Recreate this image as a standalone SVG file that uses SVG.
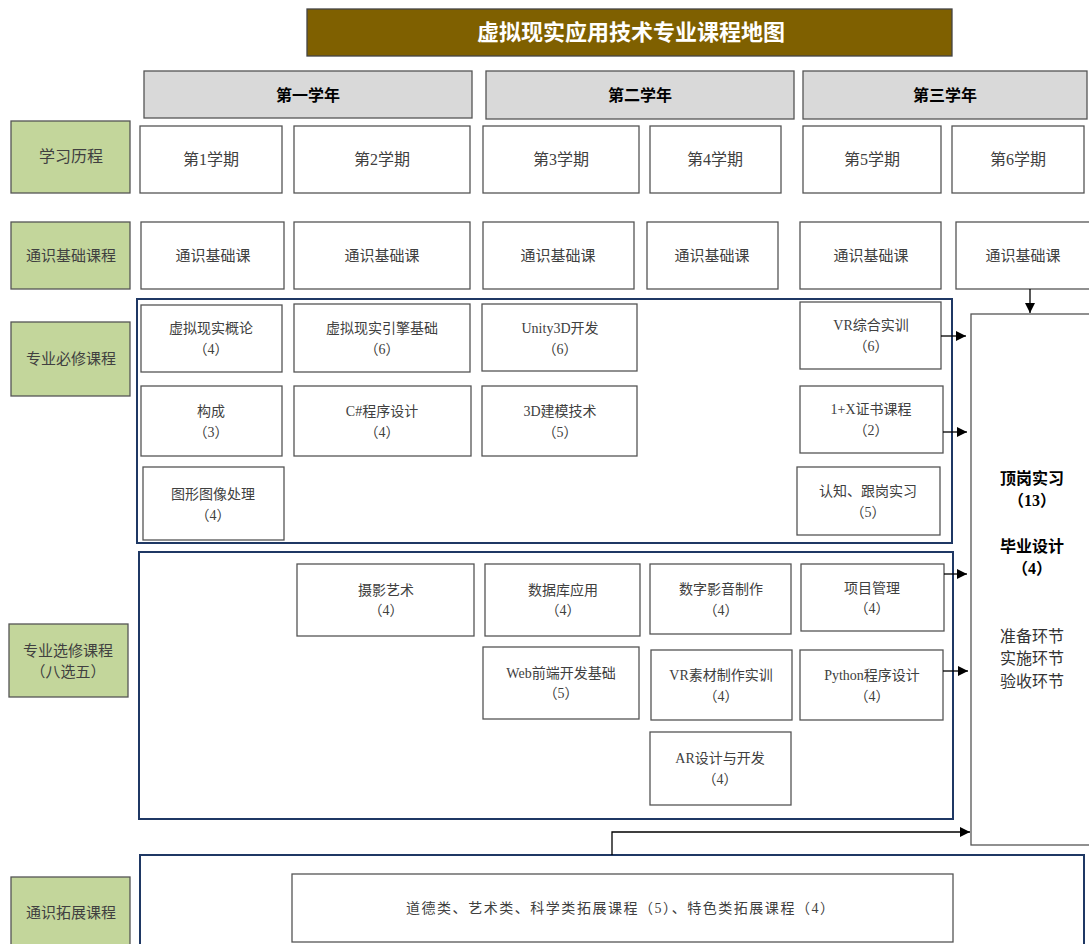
<svg xmlns="http://www.w3.org/2000/svg" width="1089" height="944" viewBox="0 0 1089 944">
<defs>
<style>
text{font-family:"Liberation Serif","Noto Sans CJK SC",serif;text-anchor:middle;fill:#404040;}
.box{fill:#fff;stroke:#555;stroke-width:1.3;}
.lbl{fill:#C3D69B;stroke:#555;stroke-width:1.3;}
.yr{fill:#D9D9D9;stroke:#555;stroke-width:1.3;}
.cont{fill:none;stroke:#1F3864;stroke-width:2;}
.t14{font-size:14px;}
.t15{font-size:15px;}
.t16{font-size:16px;}
.bold{font-weight:bold;fill:#000;}
.conn{fill:none;stroke:#000;stroke-width:1.3;}
</style>
<marker id="ah" viewBox="0 0 10 10" refX="10" refY="5" markerWidth="10" markerHeight="10" markerUnits="userSpaceOnUse" orient="auto">
<path d="M0,0 L10,5 L0,10 Z" fill="#000"/>
</marker>
</defs>
<rect width="1089" height="944" fill="#fff"/>

<g id="title">
<rect x="307" y="9" width="645" height="47" fill="#7F6000" stroke="#444" stroke-width="1.3"/>
<text x="631" y="40" style="font-size:22px;font-weight:bold;fill:#fff;font-family:'Noto Sans CJK SC',sans-serif">虚拟现实应用技术专业课程地图</text>
</g>

<g id="year1"><rect class="yr" x="144" y="71" width="328" height="47"/><text class="t16 bold" x="308" y="101">第一学年</text></g>
<g id="year2"><rect class="yr" x="486" y="71" width="308" height="48"/><text class="t16 bold" x="640" y="101">第二学年</text></g>
<g id="year3"><rect class="yr" x="803" y="71" width="284" height="48"/><text class="t16 bold" x="945" y="101">第三学年</text></g>

<g id="lbl-lc"><rect class="lbl" x="11" y="121" width="119" height="72"/><text class="t16" x="71" y="162">学习历程</text></g>
<g id="sem1"><rect class="box" x="140" y="126" width="142" height="67"/><text class="t16" x="211" y="165">第1学期</text></g>
<g id="sem2"><rect class="box" x="294" y="126" width="176" height="67"/><text class="t16" x="382" y="165">第2学期</text></g>
<g id="sem3"><rect class="box" x="483" y="126" width="156" height="67"/><text class="t16" x="561" y="165">第3学期</text></g>
<g id="sem4"><rect class="box" x="650" y="126" width="131" height="67"/><text class="t16" x="715" y="165">第4学期</text></g>
<g id="sem5"><rect class="box" x="803" y="126" width="138" height="67"/><text class="t16" x="872" y="165">第5学期</text></g>
<g id="sem6"><rect class="box" x="952" y="126" width="132" height="67"/><text class="t16" x="1018" y="165">第6学期</text></g>

<g id="lbl-tsjc"><rect class="lbl" x="11" y="222" width="119" height="67"/><text class="t15" x="71" y="261">通识基础课程</text></g>
<g id="tj1"><rect class="box" x="141" y="222" width="143" height="67"/><text class="t15" x="213" y="261">通识基础课</text></g>
<g id="tj2"><rect class="box" x="294" y="222" width="176" height="67"/><text class="t15" x="382" y="261">通识基础课</text></g>
<g id="tj3"><rect class="box" x="483" y="222" width="151" height="67"/><text class="t15" x="558" y="261">通识基础课</text></g>
<g id="tj4"><rect class="box" x="647" y="222" width="131" height="67"/><text class="t15" x="712" y="261">通识基础课</text></g>
<g id="tj5"><rect class="box" x="800" y="222" width="141" height="67"/><text class="t15" x="871" y="261">通识基础课</text></g>
<g id="tj6"><rect class="box" x="956" y="222" width="135" height="67"/><text class="t15" x="1023" y="261">通识基础课</text></g>

<g id="cont-bx"><rect class="cont" x="137" y="299" width="815" height="244"/></g>
<g id="lbl-bx"><rect class="lbl" x="11" y="322" width="119" height="74"/><text class="t15" x="71" y="364">专业必修课程</text></g>
<g id="c1"><rect class="box" x="141" y="305" width="141" height="67"/><text class="t14" x="211" y="333">虚拟现实概论</text><text class="t14" x="211" y="354">（4）</text></g>
<g id="c2"><rect class="box" x="294" y="304" width="176" height="68"/><text class="t14" x="382" y="333">虚拟现实引擎基础</text><text class="t14" x="382" y="354">（6）</text></g>
<g id="c3"><rect class="box" x="482" y="304" width="155" height="67"/><text class="t14" x="560" y="333">Unity3D开发</text><text class="t14" x="560" y="354">（6）</text></g>
<g id="c4"><rect class="box" x="800" y="302" width="141" height="67"/><text class="t14" x="871" y="330">VR综合实训</text><text class="t14" x="871" y="351">（6）</text></g>
<g id="c5"><rect class="box" x="141" y="386" width="141" height="70"/><text class="t14" x="211" y="416">构成</text><text class="t14" x="211" y="437">（3）</text></g>
<g id="c6"><rect class="box" x="294" y="386" width="177" height="70"/><text class="t14" x="382" y="416">C#程序设计</text><text class="t14" x="382" y="437">（4）</text></g>
<g id="c7"><rect class="box" x="482" y="386" width="155" height="70"/><text class="t14" x="560" y="416">3D建模技术</text><text class="t14" x="560" y="437">（5）</text></g>
<g id="c8"><rect class="box" x="800" y="386" width="143" height="67"/><text class="t14" x="871" y="414">1+X证书课程</text><text class="t14" x="871" y="435">（2）</text></g>
<g id="c9"><rect class="box" x="143" y="467" width="141" height="73"/><text class="t14" x="213" y="499">图形图像处理</text><text class="t14" x="213" y="520">（4）</text></g>
<g id="c10"><rect class="box" x="797" y="467" width="143" height="68"/><text class="t14" x="868" y="496">认知、跟岗实习</text><text class="t14" x="868" y="517">（5）</text></g>

<g id="cont-xx"><rect class="cont" x="139" y="552" width="814" height="267"/></g>
<g id="lbl-xx"><rect class="lbl" x="9" y="624" width="119" height="73"/><text class="t15" x="68" y="656">专业选修课程</text><text class="t15" x="68" y="677">（八选五）</text></g>
<g id="e1"><rect class="box" x="297" y="564" width="177" height="72"/><text class="t14" x="386" y="595">摄影艺术</text><text class="t14" x="386" y="615">（4）</text></g>
<g id="e2"><rect class="box" x="485" y="564" width="155" height="72"/><text class="t14" x="563" y="595">数据库应用</text><text class="t14" x="563" y="615">（4）</text></g>
<g id="e3"><rect class="box" x="650" y="564" width="141" height="70"/><text class="t14" x="721" y="594">数字影音制作</text><text class="t14" x="721" y="615">（4）</text></g>
<g id="e4"><rect class="box" x="801" y="564" width="143" height="67"/><text class="t14" x="872" y="593">项目管理</text><text class="t14" x="872" y="613">（4）</text></g>
<g id="e5"><rect class="box" x="483" y="647" width="156" height="72"/><text class="t14" x="561" y="678">Web前端开发基础</text><text class="t14" x="561" y="698">（5）</text></g>
<g id="e6"><rect class="box" x="651" y="650" width="141" height="70"/><text class="t14" x="721" y="680">VR素材制作实训</text><text class="t14" x="721" y="701">（4）</text></g>
<g id="e7"><rect class="box" x="800" y="650" width="143" height="70"/><text class="t14" x="872" y="680">Python程序设计</text><text class="t14" x="872" y="701">（4）</text></g>
<g id="e8"><rect class="box" x="650" y="732" width="141" height="73"/><text class="t14" x="720" y="763">AR设计与开发</text><text class="t14" x="720" y="784">（4）</text></g>

<g id="cont-tz"><rect class="cont" x="140" y="855" width="944" height="95"/></g>
<g id="lbl-tz"><rect class="lbl" x="11" y="877" width="119" height="72"/><text class="t15" x="71" y="918">通识拓展课程</text></g>
<g id="tz1"><rect class="box" x="292" y="874" width="661" height="68"/><text class="t14" x="620" y="913" textLength="428" lengthAdjust="spacing">道德类、艺术类、科学类拓展课程（5）、特色类拓展课程（4）</text></g>

<g id="final"><rect class="box" x="971" y="314" width="125" height="531"/>
<text class="t16 bold" x="1032" y="484">顶岗实习</text>
<text class="t16 bold" x="1032" y="506">（13）</text>
<text class="t16 bold" x="1032" y="552">毕业设计</text>
<text class="t16 bold" x="1032" y="574">（4）</text>
<text class="t16" x="1032" y="642" style="fill:#333">准备环节</text>
<text class="t16" x="1032" y="664" style="fill:#333">实施环节</text>
<text class="t16" x="1032" y="687" style="fill:#333">验收环节</text>
</g>

<g id="connectors">
<path class="conn" d="M1030,289 V313" marker-end="url(#ah)"/>
<path class="conn" d="M941,336 H966" marker-end="url(#ah)"/>
<path class="conn" d="M943,432 H967" marker-end="url(#ah)"/>
<path class="conn" d="M944,574 H967" marker-end="url(#ah)"/>
<path class="conn" d="M943,671 H968" marker-end="url(#ah)"/>
<path class="conn" d="M612,855 V832 H970" marker-end="url(#ah)"/>
</g>
</svg>
